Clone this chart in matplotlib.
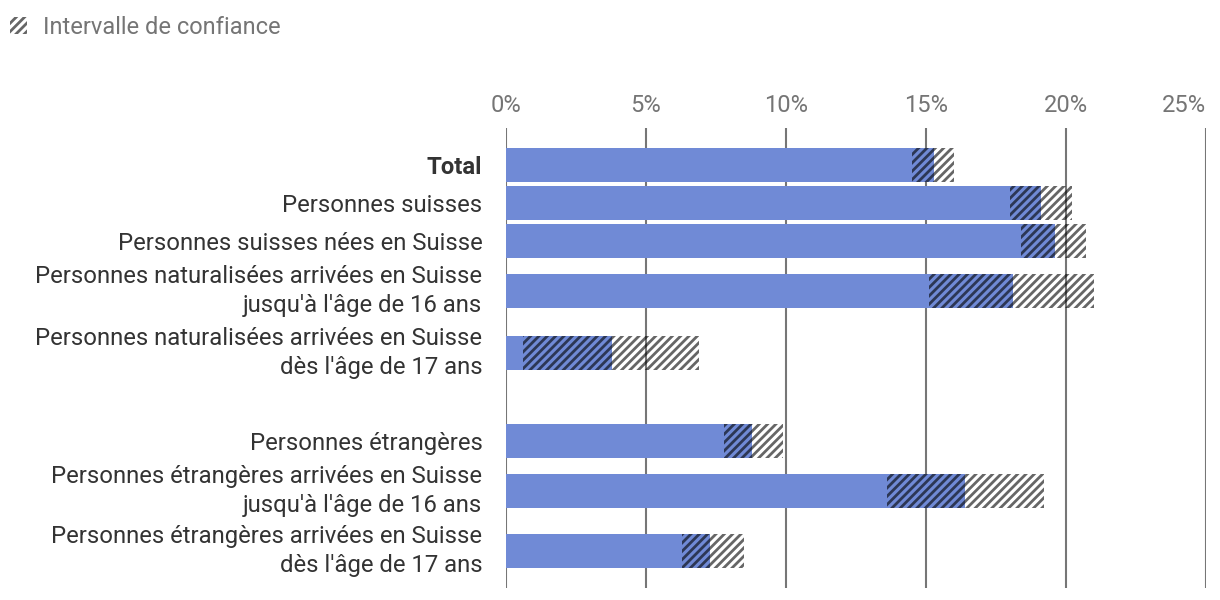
import matplotlib
matplotlib.use("Agg")
import matplotlib.pyplot as plt
from matplotlib.patches import Patch

categories = [
    "Total",
    "Personnes suisses",
    "Personnes suisses nées en Suisse",
    "Personnes naturalisées arrivées en Suisse\njusqu'à l'âge de 16 ans",
    "Personnes naturalisées arrivées en Suisse\ndès l'âge de 17 ans",
    "Personnes étrangères",
    "Personnes étrangères arrivées en Suisse\njusqu'à l'âge de 16 ans",
    "Personnes étrangères arrivées en Suisse\ndès l'âge de 17 ans",
]
values = [15.3, 19.1, 19.6, 18.1, 3.8, 8.8, 16.4, 7.3]
ci_low = [14.5, 18.0, 18.4, 15.1, 0.6, 7.8, 13.6, 6.3]
ci_high = [16.0, 20.2, 20.7, 21.0, 6.9, 9.9, 19.2, 8.5]
xticks = [0, 5, 10, 15, 20, 25]

# layout: row centres in pixel units (gap before the foreign group)
rows_y = [165, 203, 241, 291, 353, 441, 491, 551]
BAR_H = 34

BLUE = "#708ad6"
HATCH = (0, 0, 0, 0.6)
GRID = "#767676"

plt.rcParams["font.family"] = ["Roboto", "DejaVu Sans"]
plt.rcParams["hatch.linewidth"] = 2.0

fig = plt.figure(figsize=(12.2, 6), dpi=100)
ax = fig.add_axes([506 / 1220, 1 - 588 / 600, 700 / 1220, 460 / 600])

ax.barh(rows_y, values, height=BAR_H, color=BLUE, zorder=2)
widths = [h - l for l, h in zip(ci_low, ci_high)]
ax.barh(rows_y, widths, left=ci_low, height=BAR_H, fill=False,
        hatch="////", edgecolor=HATCH, linewidth=0, zorder=3)

ax.set_xlim(0, 25)
ax.set_ylim(588, 128)
for x in xticks:
    ax.axvline(x, color=GRID, lw=1.5, zorder=1)

ax.xaxis.tick_top()
ax.set_xticks(xticks)
ax.set_xticklabels(["%d%%" % x for x in xticks], color="#757575", fontsize=17)
ax.get_xticklabels()[-1].set_horizontalalignment("right")
ax.tick_params(axis="x", length=0, pad=8)

ax.set_yticks(rows_y)
ax.set_yticklabels(categories, fontsize=17.2, color="#333333", linespacing=1.3)
ax.tick_params(axis="y", length=0, pad=17)
for lab in ax.get_yticklabels():
    if "\n" in lab.get_text():
        lab.set_verticalalignment("center")
ax.get_yticklabels()[0].set_fontweight("bold")

for s in ax.spines.values():
    s.set_visible(False)

handle = Patch(facecolor="none", edgecolor=HATCH, hatch="////", linewidth=0)
fig.legend([handle], ["Intervalle de confiance"], loc="upper left",
           bbox_to_anchor=(10 / 1220, 1 - 16 / 600), frameon=False, fontsize=17,
           labelcolor="#757575", handlelength=0.7, handleheight=0.7,
           handletextpad=0.68, borderaxespad=0, borderpad=0)

fig.savefig("out.png", dpi=100)
